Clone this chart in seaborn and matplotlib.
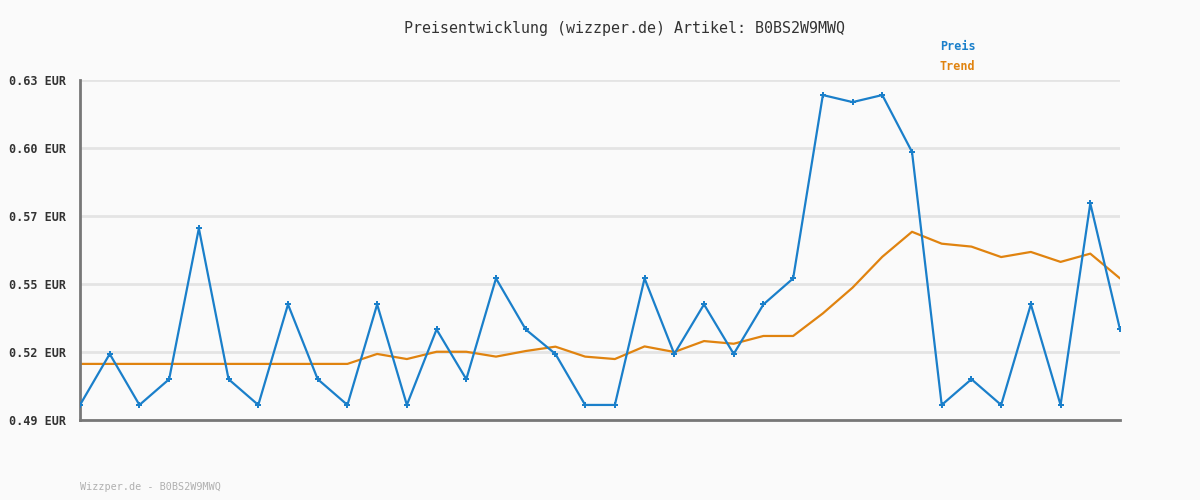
import numpy as np
import pandas as pd
import matplotlib
matplotlib.use("Agg")
import matplotlib.pyplot as plt
import seaborn as sns

# --- data -------------------------------------------------------------
preis = [0.4962, 0.5172, 0.4962, 0.5068, 0.5689, 0.5068, 0.4962, 0.5376, 0.5068, 0.4962,
         0.5376, 0.4962, 0.5273, 0.5068, 0.5483, 0.5273, 0.5172, 0.4962, 0.4962, 0.5483,
         0.5172, 0.5376, 0.5172, 0.5376, 0.5483, 0.6238, 0.6209, 0.6238, 0.6004, 0.4962,
         0.5068, 0.4962, 0.5376, 0.4962, 0.5792, 0.5273]
trend = [0.5131, 0.5131, 0.5131, 0.5131, 0.5131, 0.5131, 0.5131, 0.5131, 0.5131, 0.5131,
         0.5172, 0.5151, 0.5181, 0.5181, 0.5161, 0.5184, 0.5202, 0.5161, 0.5151, 0.5203,
         0.5180, 0.5225, 0.5214, 0.5246, 0.5246, 0.5339, 0.5445, 0.5572, 0.5675, 0.5626,
         0.5614, 0.5571, 0.5592, 0.5551, 0.5585, 0.5483]
y_ticks = [0.49, 0.518, 0.546, 0.574, 0.602, 0.63]
y_tick_labels = ["0.49 EUR", "0.52 EUR", "0.55 EUR", "0.57 EUR", "0.60 EUR", "0.63 EUR"]
title = "Preisentwicklung (wizzper.de) Artikel: B0BS2W9MWQ"
footer = "Wizzper.de - B0BS2W9MWQ"

BLUE = "#1a7fca"
ORANGE = "#e0830f"
BG = "#fafafa"

sns.set_theme(style="white")
plt.rcParams["font.family"] = ["DejaVu Sans Mono", "DejaVu Sans"]

df = pd.DataFrame({"idx": np.arange(len(preis)), "Preis": preis, "Trend": trend})

fig = plt.figure(figsize=(12, 5), dpi=100, facecolor=BG)
ax = fig.add_axes([80 / 1200, 1 - 420 / 500, 1040 / 1200, 340 / 500])
ax.set_facecolor(BG)

for yv in y_ticks:
    ax.axhline(yv, color="#e4e4e4", linewidth=2, zorder=0)

sns.lineplot(data=df, x="idx", y="Trend", ax=ax, color=ORANGE, linewidth=1.6, zorder=2)
sns.lineplot(data=df, x="idx", y="Preis", ax=ax, color=BLUE, linewidth=1.6,
             marker="P", markersize=4, markeredgewidth=0, zorder=3)

ax.set_xlim(0, len(preis) - 1)
ax.set_ylim(y_ticks[0], y_ticks[-1])
ax.set_yticks(y_ticks)
ax.set_yticklabels(y_tick_labels, fontsize=8.5, fontweight="bold", color="#333333")
ax.set_xticks([])
ax.set_xlabel("")
ax.set_ylabel("")
ax.tick_params(axis="y", length=0, pad=10)

for s in ["top", "right"]:
    ax.spines[s].set_visible(False)
for s in ["left", "bottom"]:
    ax.spines[s].set_color("#777777")
    ax.spines[s].set_linewidth(2)

fig.text(624 / 1200, 1 - 28 / 500, title, ha="center", va="center",
         fontsize=10.8, color="#333333")
fig.text(940 / 1200, 1 - 47 / 500, "Preis", ha="left", va="center",
         fontsize=8.5, fontweight="bold", color=BLUE)
fig.text(940 / 1200, 1 - 67 / 500, "Trend", ha="left", va="center",
         fontsize=8.5, fontweight="bold", color=ORANGE)
fig.text(80 / 1200, 1 - 487 / 500, footer, ha="left", va="center",
         fontsize=7.3, color="#b0b0b0")

fig.savefig("out.png", dpi=100, facecolor=BG)
